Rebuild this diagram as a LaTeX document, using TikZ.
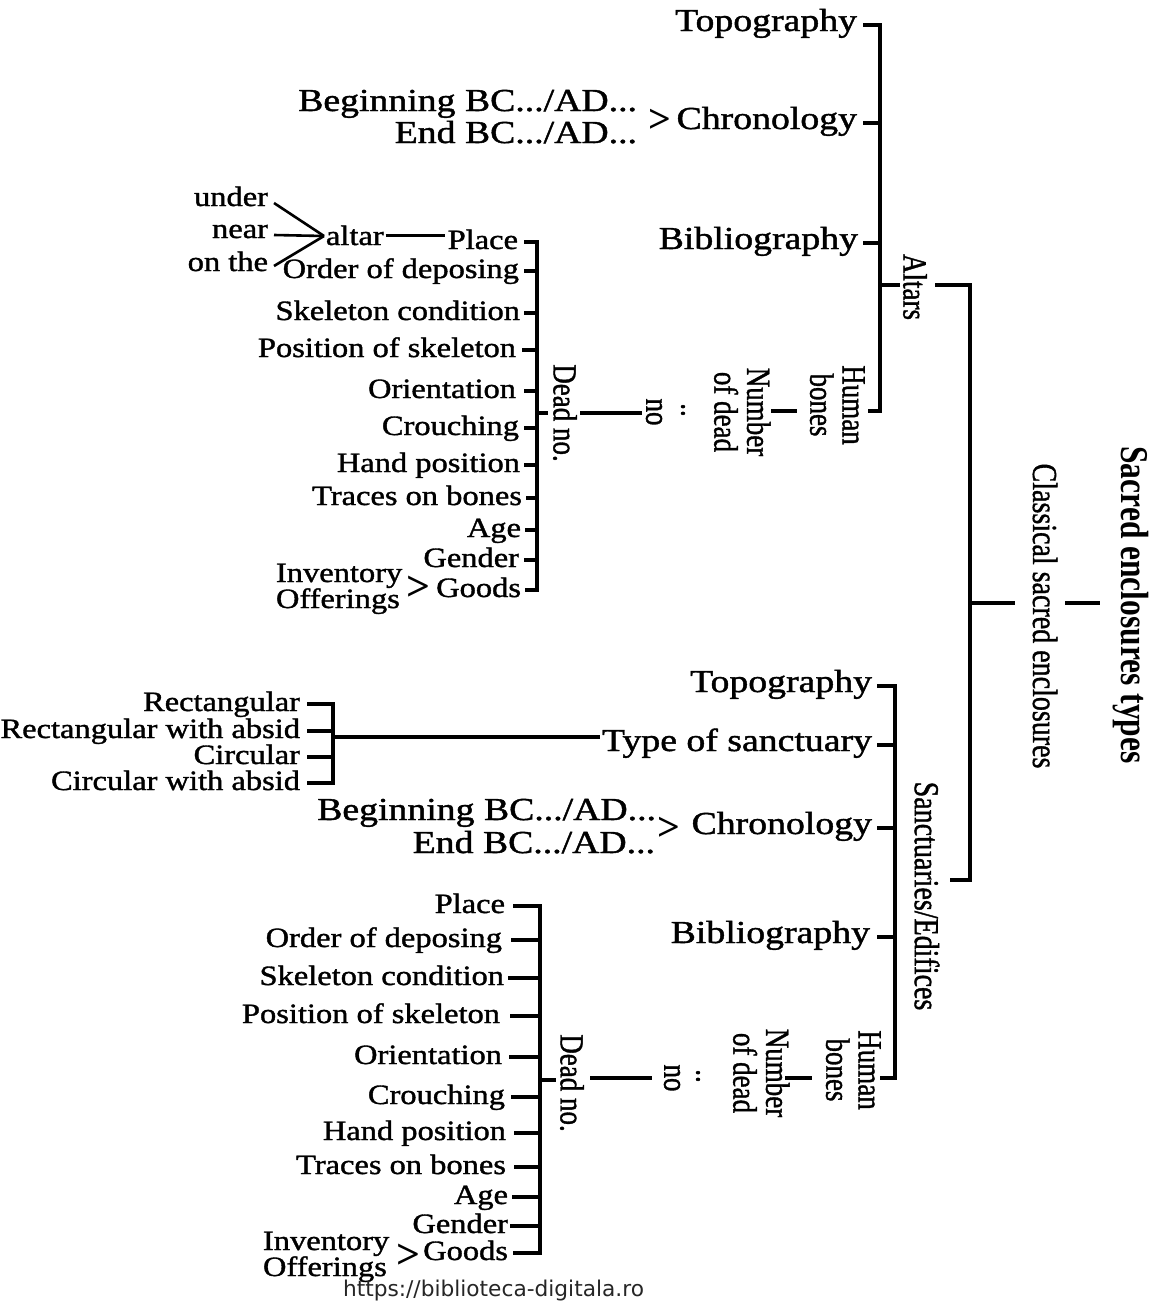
\documentclass[tikz,border=0pt]{standalone}
\usepackage{fontspec}
\usepackage{graphicx}
\setmainfont{Liberation Serif}
\newfontfamily\txt{Liberation Serif}[FakeBold=1.2]
\newfontfamily\wmfont{DejaVu Sans}

% #1 name, #2 right end of text, #3 tick y, #4 tick start x, #5 spine coordinate, #6 text
\newcommand\litem[6]{%
  \node[itm] (#1) at (#2,#3+7) {\scalebox{1.16}[1]{#6}};
  \coordinate (#1-t) at (#4,#3);
  \draw (#1-t) -- (#1-t -| #5);}
\newcommand\titem[6]{%
  \node[lbl] (#1) at (#2,#3+6) {\scalebox{1.18}[1]{#6}};
  \coordinate (#1-t) at (#4,#3);
  \draw (#1-t) -- (#1-t -| #5);}

\begin{document}
\begin{tikzpicture}[x=1pt,y=-1pt,
  line width=3.5pt, line join=miter,
  every node/.style={inner sep=0pt, outer sep=0pt},
  lbl/.style={font=\txt\fontsize{32}{32}\selectfont, anchor=base east},
  itm/.style={font=\txt\fontsize{28}{28}\selectfont, anchor=base east},
  vlbl/.style={font=\txt\fontsize{27}{24}\selectfont, rotate=-90, anchor=center},
  chev/.style={font=\bfseries\fontsize{40}{40}\selectfont, anchor=center},
  bchev/.style={font=\bfseries\fontsize{42}{42}\selectfont, anchor=center}]
\useasboundingbox (0,0) rectangle (1159,1301);
\fill[white] (0,0) rectangle (1159,1301);

% ================= Altars branch =================
\coordinate (spA) at (880,0);
\titem{topoA}{857}{25}{863}{spA}{Topography}
\titem{chronoA}{857}{123}{863}{spA}{Chronology}
\titem{biblioA}{858}{243}{863}{spA}{Bibliography}
\node[lbl] (begA) at (637,111) {\scalebox{1.18}[1]{Beginning BC.../AD...}};
\node[lbl] (endA) at (637,143) {\scalebox{1.18}[1]{End BC.../AD...}};
\node[chev] (gtA) at (660,121) {>};

\node[vlbl] (humA) at (833,405) {\scalebox{1}[1.25]{\begin{tabular}{@{}c@{}}Human\\bones\end{tabular}}};
\coordinate (humA-t) at (868,411);
\draw (topoA-t) -| (humA-t -| spA) -- (humA-t);

\coordinate (altA1) at (880,285);
\coordinate (altA2) at (900,285);
\draw (altA1) -- (altA2);
\node[vlbl] (altars) at (915,287) {\scalebox{1}[1.25]{Altars}};

\coordinate (dA1) at (771,411);
\coordinate (dA2) at (797,411);
\draw (dA1) -- (dA2);
\node[vlbl] (numA) at (738,412) {\scalebox{1}[1.25]{\begin{tabular}{@{}c@{}}Number\\of dead\end{tabular}}};
\node[vlbl] (dotsA) at (683,410) {\scalebox{1}[1.25]{..}};
\node[vlbl] (noA) at (654,412) {\scalebox{1}[1.25]{no}};
\coordinate (lA1) at (580,413);
\coordinate (lA2) at (642,413);
\draw (lA1) -- (lA2);
\node[vlbl] (deadA) at (565,413) {\scalebox{1}[1.25]{Dead no.}};

% list of the altar burial
\coordinate (spD) at (537,0);
\litem{placeA}{518}{242}{524}{spD}{Place}
\litem{orderA}{519}{271}{524}{spD}{Order of deposing}
\litem{skcA}{520}{313}{524}{spD}{Skeleton condition}
\litem{poskA}{516}{350}{522}{spD}{Position of skeleton}
\litem{orientA}{516}{391}{524}{spD}{Orientation}
\litem{crouchA}{519}{428}{524}{spD}{Crouching}
\litem{handA}{520}{465}{524}{spD}{Hand position}
\litem{traceA}{522}{498}{526}{spD}{Traces on bones}
\litem{ageA}{521}{530}{525}{spD}{Age}
\litem{genderA}{519}{560}{524}{spD}{Gender}
\litem{goodsA}{521}{590}{525}{spD}{Goods}
\draw (placeA-t) -| (goodsA-t -| spD) -- (goodsA-t);
\coordinate (deadA-t) at (548,413);
\draw (deadA-t -| spD) -- (deadA-t);

\node[itm, anchor=base west] (invA) at (276,582) {\scalebox{1.16}[1]{Inventory}};
\node[itm, anchor=base west] (offA) at (276,608) {\scalebox{1.16}[1]{Offerings}};
\node[bchev] (gtgA) at (418,588) {>};

% place of the altar deposit
\node[itm] (under) at (268,206) {\scalebox{1.16}[1]{under}};
\node[itm] (near) at (268,238) {\scalebox{1.16}[1]{near}};
\node[itm] (onthe) at (268,271) {\scalebox{1.16}[1]{on the}};
\node[itm, anchor=base west] (altar) at (326,245) {\scalebox{1.16}[1]{altar}};
\coordinate (cv) at (324,236);
\coordinate (u0) at (274,203);
\coordinate (n0) at (274,235);
\coordinate (o0) at (274,266);
\draw[line width=2.6pt] (u0) -- (cv);
\draw[line width=2.6pt] (n0) -- (cv);
\draw[line width=2.6pt] (o0) -- (cv);
\draw[line width=2.6pt, shorten <=2pt, shorten >=3pt] (altar.east) -- (altar.east -| placeA.west);

% ================= upper levels =================
\coordinate (altB1) at (935,285);
\coordinate (sanB) at (950,880);
\coordinate (spC) at (970,0);
\draw (altB1) -| (sanB -| spC) -- (sanB);
\coordinate (cl1) at (970,603);
\coordinate (cl2) at (1015,603);
\draw (cl1) -- (cl2);
\node[vlbl, font=\txt\fontsize{28}{24}\selectfont] (classical) at (1045,616) {\scalebox{1}[1.25]{Classical sacred enclosures}};
\coordinate (cl3) at (1065,603);
\coordinate (cl4) at (1100,603);
\draw (cl3) -- (cl4);
\node[vlbl, font=\bfseries\fontsize{31.5}{24}\selectfont] (title) at (1131,605) {\scalebox{1}[1.25]{Sacred enclosures types}};
\node[vlbl, font=\txt\fontsize{28}{24}\selectfont] (sanct) at (927,896) {\scalebox{1}[1.25]{Sanctuaries/Edifices}};

% ================= Sanctuaries branch =================
\coordinate (spS) at (895,0);
\titem{topoB}{872}{686}{877}{spS}{Topography}
\titem{typeB}{872}{745}{877}{spS}{Type of sanctuary}
\titem{chronoB}{872}{828}{877}{spS}{Chronology}
\titem{biblioB}{870}{937}{877}{spS}{Bibliography}
\node[lbl] (begB) at (656,820) {\scalebox{1.18}[1]{Beginning BC.../AD...}};
\node[lbl] (endB) at (655,853) {\scalebox{1.18}[1]{End BC.../AD...}};
\node[chev] (gtB) at (669,829) {>};

\node[vlbl] (humB) at (849,1070) {\scalebox{1}[1.25]{\begin{tabular}{@{}c@{}}Human\\bones\end{tabular}}};
\coordinate (humB-t) at (880,1078);
\draw (topoB-t) -| (humB-t -| spS) -- (humB-t);

% kinds of sanctuary
\coordinate (spT) at (333,0);
\litem{rect}{300}{704}{307}{spT}{Rectangular}
\litem{rabs}{300}{731}{307}{spT}{Rectangular with absid}
\litem{circ}{300}{757}{307}{spT}{Circular}
\litem{cabs}{300}{783}{307}{spT}{Circular with absid}
\draw (rect-t) -| (cabs-t -| spT) -- (cabs-t);
\draw[shorten >=2pt] (spT |- typeB-t) ++(0,-8) coordinate (tl0) -- (tl0 -| typeB.west);

\coordinate (dB1) at (785,1078);
\coordinate (dB2) at (812,1078);
\draw (dB1) -- (dB2);
\node[vlbl] (numB) at (757,1073) {\scalebox{1}[1.25]{\begin{tabular}{@{}c@{}}Number\\of dead\end{tabular}}};
\node[vlbl] (dotsB) at (698,1076) {\scalebox{1}[1.25]{..}};
\node[vlbl] (noB) at (672,1078) {\scalebox{1}[1.25]{no}};
\coordinate (lB1) at (590,1078);
\coordinate (lB2) at (652,1078);
\draw (lB1) -- (lB2);
\node[vlbl] (deadB) at (572,1083) {\scalebox{1}[1.25]{Dead no.}};

% list of the sanctuary burial
\coordinate (spE) at (540,0);
\litem{placeB}{505}{906}{513}{spE}{Place}
\litem{orderB}{502}{940}{511}{spE}{Order of deposing}
\litem{skcB}{504}{978}{508}{spE}{Skeleton condition}
\litem{poskB}{500}{1016}{510}{spE}{Position of skeleton}
\litem{orientB}{502}{1057}{509}{spE}{Orientation}
\litem{crouchB}{505}{1097}{511}{spE}{Crouching}
\litem{handB}{506}{1133}{514}{spE}{Hand position}
\litem{traceB}{506}{1167}{514}{spE}{Traces on bones}
\litem{ageB}{508}{1197}{512}{spE}{Age}
\litem{genderB}{508}{1226}{510}{spE}{Gender}
\litem{goodsB}{508}{1253}{513}{spE}{Goods}
\draw (placeB-t) -| (goodsB-t -| spE) -- (goodsB-t);
\coordinate (deadB-t) at (556,1080);
\draw (deadB-t -| spE) -- (deadB-t);

\node[itm, anchor=base west] (invB) at (263,1250) {\scalebox{1.16}[1]{Inventory}};
\node[itm, anchor=base west] (offB) at (263,1276) {\scalebox{1.16}[1]{Offerings}};
\node[bchev] (gtgB) at (408,1256) {>};

% web address
\node[anchor=base west, font=\wmfont\fontsize{21.7}{22}\selectfont, text=black!85] (url) at (343,1296) {https://biblioteca-digitala.ro};
\end{tikzpicture}
\end{document}
